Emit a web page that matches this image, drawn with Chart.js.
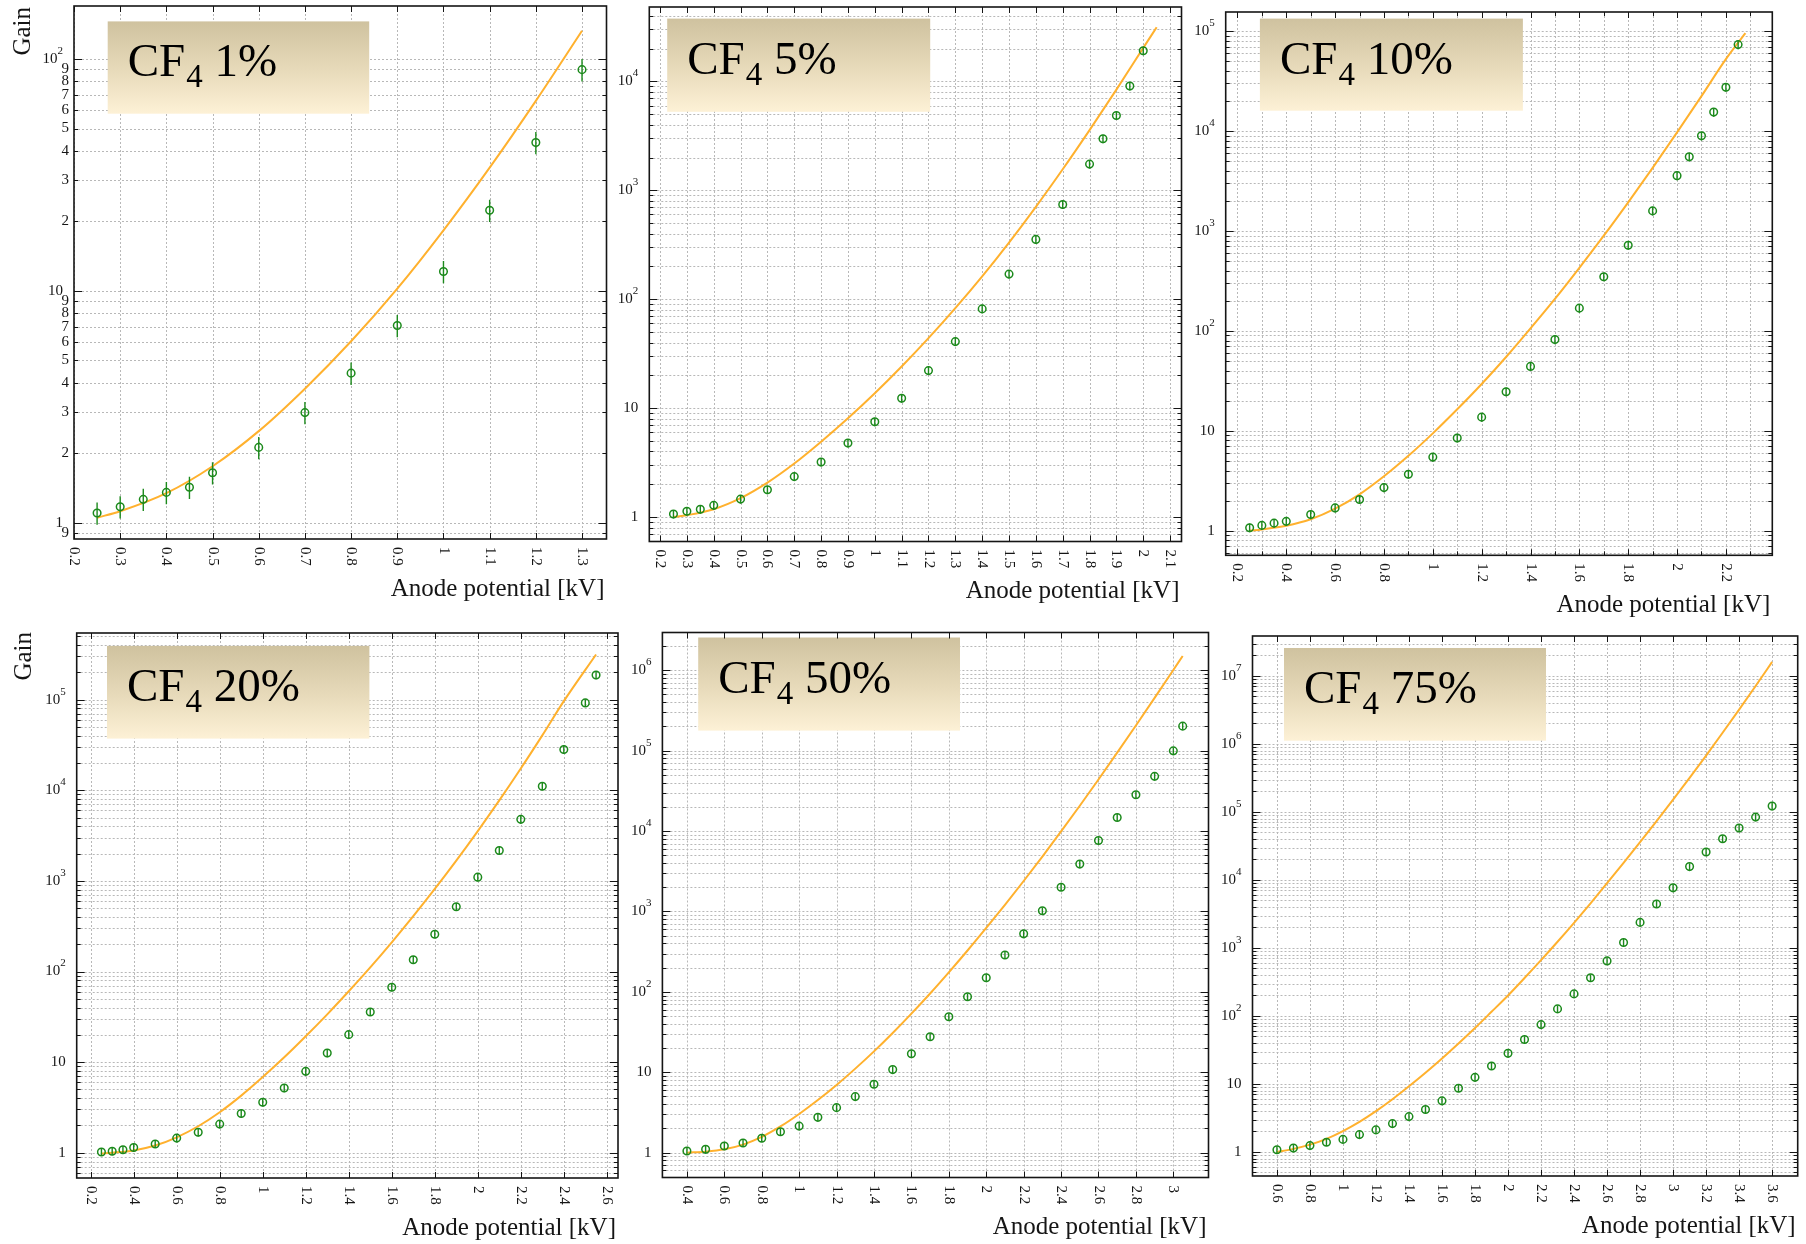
<!DOCTYPE html>
<html>
<head>
<meta charset="utf-8">
<title>Gain vs anode potential for CF4 admixtures</title>
<script src="https://cdn.jsdelivr.net/npm/chart.js@4.4.1/dist/chart.umd.min.js"></script>
<style>
  html, body { margin: 0; padding: 0; background: #ffffff; }
  #page { position: relative; width: 1806px; height: 1244px; overflow: hidden; background: #ffffff; }
  #page canvas { position: absolute; }
</style>
</head>
<body>
<div id="page"></div>
<script>
// ---------------- measured gain (points) and model curve (line) ----------------

// CF4 1 %
const pct1 = '1%';
const volt1 = [0.25, 0.3, 0.35, 0.4, 0.45, 0.5, 0.6, 0.7, 0.8, 0.9, 1.0, 1.1, 1.2, 1.3];
const gain1 = [1.10, 1.17, 1.26, 1.35, 1.42, 1.64, 2.11, 2.98, 4.41, 7.08, 12.1, 22.2, 43.5, 89.7];
const relErr1 = 0.11;
const fitVolt1 = [0.25, 0.3, 0.4, 0.5, 0.6, 0.7, 0.8, 0.9, 1.0, 1.1, 1.2, 1.3];
const fitGain1 = [1.05, 1.12, 1.34, 1.75, 2.48, 3.78, 6.05, 10.2, 18.2, 33.9, 65.8, 132];
const xTicks1 = [0.2, 0.3, 0.4, 0.5, 0.6, 0.7, 0.8, 0.9, 1, 1.1, 1.2, 1.3];
const yDecades1 = [0, 1, 2];
const yMinorLabels1 = [0.9, 2, 3, 4, 5, 6, 7, 8, 9, 20, 30, 40, 50, 60, 70, 80, 90];

// CF4 5 %
const pct2 = '5%';
const volt2 = [0.25, 0.3, 0.35, 0.4, 0.5, 0.6, 0.7, 0.8, 0.9, 1.0, 1.1, 1.2, 1.3, 1.4, 1.5, 1.6, 1.7, 1.8, 1.85, 1.9, 1.95, 2.0];
const gain2 = [1.065, 1.13, 1.18, 1.28, 1.46, 1.78, 2.35, 3.2, 4.78, 7.5, 12.3, 22.1, 40.8, 81.5, 170, 354, 741, 1740, 2970, 4860, 9060, 19100];
const relErr2 = 0.09;
const fitVolt2 = [0.25, 0.3, 0.4, 0.5, 0.6, 0.7, 0.8, 0.9, 1.0, 1.1, 1.2, 1.3, 1.4, 1.5, 1.6, 1.7, 1.8, 1.9, 2.0, 2.05];
const fitGain2 = [1.0, 1.04, 1.18, 1.49, 2.07, 3.10, 4.92, 8.07, 13.7, 24.1, 43.9, 82.8, 162, 331, 705, 1560, 3570, 8410, 20300, 31400];
const xTicks2 = [0.2, 0.3, 0.4, 0.5, 0.6, 0.7, 0.8, 0.9, 1, 1.1, 1.2, 1.3, 1.4, 1.5, 1.6, 1.7, 1.8, 1.9, 2, 2.1];
const yDecades2 = [0, 1, 2, 3, 4];

// CF4 10 %
const pct3 = '10%';
const volt3 = [0.25, 0.3, 0.35, 0.4, 0.5, 0.6, 0.7, 0.8, 0.9, 1.0, 1.1, 1.2, 1.3, 1.4, 1.5, 1.6, 1.7, 1.8, 1.9, 2.0, 2.05, 2.1, 2.15, 2.2, 2.25];
const gain3 = [1.07, 1.13, 1.19, 1.24, 1.45, 1.69, 2.05, 2.70, 3.67, 5.45, 8.48, 13.7, 24.6, 44.1, 81.9, 169, 348, 721, 1590, 3580, 5530, 8970, 15500, 27500, 73400];
const relErr3 = 0.1;
const fitVolt3 = [0.25, 0.3, 0.4, 0.5, 0.6, 0.7, 0.8, 0.9, 1.0, 1.1, 1.2, 1.3, 1.4, 1.5, 1.6, 1.7, 1.8, 1.9, 2.0, 2.1, 2.2, 2.28];
const fitGain3 = [1.0, 1.03, 1.12, 1.30, 1.66, 2.31, 3.50, 5.61, 9.42, 16.4, 29.4, 54.8, 106, 209, 428, 897, 1936, 4285, 9700, 22400, 52500, 95500];
const xTicks3 = [0.2, 0.4, 0.6, 0.8, 1, 1.2, 1.4, 1.6, 1.8, 2, 2.2];
const xGrid3 = [0.2, 0.3, 0.4, 0.5, 0.6, 0.7, 0.8, 0.9, 1, 1.1, 1.2, 1.3, 1.4, 1.5, 1.6, 1.7, 1.8, 1.9, 2, 2.1, 2.2, 2.3];
const yDecades3 = [0, 1, 2, 3, 4, 5];

// CF4 20 %
const pct4 = '20%';
const volt4 = [0.25, 0.3, 0.35, 0.4, 0.5, 0.6, 0.7, 0.8, 0.9, 1.0, 1.1, 1.2, 1.3, 1.4, 1.5, 1.6, 1.7, 1.8, 1.9, 2.0, 2.1, 2.2, 2.3, 2.4, 2.5, 2.55];
const gain4 = [1.02, 1.04, 1.08, 1.14, 1.25, 1.45, 1.68, 2.07, 2.71, 3.6, 5.18, 7.91, 12.6, 20.1, 35.8, 67.1, 135, 258, 519, 1100, 2170, 4780, 11100, 28200, 92200, 187500];
const relErr4 = 0.1;
const fitVolt4 = [0.25, 0.3, 0.4, 0.5, 0.6, 0.7, 0.8, 0.9, 1.0, 1.1, 1.2, 1.3, 1.4, 1.5, 1.6, 1.7, 1.8, 1.9, 2.0, 2.1, 2.2, 2.3, 2.4, 2.55];
const fitGain4 = [0.98, 1.0, 1.06, 1.20, 1.48, 1.96, 2.80, 4.27, 6.84, 11.3, 19.3, 33.7, 60.5, 111, 210, 408, 815, 1675, 3550, 7740, 17400, 40400, 96400, 316000];
const xTicks4 = [0.2, 0.4, 0.6, 0.8, 1, 1.2, 1.4, 1.6, 1.8, 2, 2.2, 2.4, 2.6];
const yDecades4 = [0, 1, 2, 3, 4, 5];

// CF4 50 %
const pct5 = '50%';
const volt5 = [0.4, 0.5, 0.6, 0.7, 0.8, 0.9, 1.0, 1.1, 1.2, 1.3, 1.4, 1.5, 1.6, 1.7, 1.8, 1.9, 2.0, 2.1, 2.2, 2.3, 2.4, 2.5, 2.6, 2.7, 2.8, 2.9, 3.0, 3.05];
const gain5 = [1.05, 1.10, 1.21, 1.32, 1.51, 1.82, 2.14, 2.75, 3.63, 4.98, 7.1, 10.8, 17.0, 27.7, 49.1, 86.8, 150, 288, 527, 1022, 2003, 3885, 7620, 14780, 28340, 47900, 99500, 201800];
const relErr5 = 0.1;
const fitVolt5 = [0.4, 0.5, 0.6, 0.7, 0.8, 0.9, 1.0, 1.1, 1.2, 1.3, 1.4, 1.5, 1.6, 1.7, 1.8, 1.9, 2.0, 2.1, 2.2, 2.3, 2.4, 2.5, 2.6, 2.7, 2.8, 2.9, 3.0, 3.05];
const fitGain5 = [1.0, 1.03, 1.10, 1.26, 1.57, 2.12, 3.03, 4.51, 6.95, 11.1, 18.2, 30.8, 53.6, 95.5, 175, 327, 624, 1211, 2393, 4820, 9890, 20650, 43850, 94400, 205600, 452900, 1.007e6, 1.507e6];
const xTicks5 = [0.4, 0.6, 0.8, 1, 1.2, 1.4, 1.6, 1.8, 2, 2.2, 2.4, 2.6, 2.8, 3];
const yDecades5 = [0, 1, 2, 3, 4, 5, 6];

// CF4 75 %
const pct6 = '75%';
const volt6 = [0.6, 0.7, 0.8, 0.9, 1.0, 1.1, 1.2, 1.3, 1.4, 1.5, 1.6, 1.7, 1.8, 1.9, 2.0, 2.1, 2.2, 2.3, 2.4, 2.5, 2.6, 2.7, 2.8, 2.9, 3.0, 3.1, 3.2, 3.3, 3.4, 3.5, 3.6];
const gain6 = [1.08, 1.14, 1.24, 1.39, 1.53, 1.80, 2.11, 2.61, 3.31, 4.21, 5.64, 8.64, 12.5, 18.4, 28.2, 45.0, 74.6, 127, 211, 364, 645, 1206, 2377, 4440, 7660, 15730, 25720, 40460, 58000, 84000, 122000];
const relErr6 = 0.12;
const fitVolt6 = [0.6, 0.7, 0.8, 0.9, 1.0, 1.1, 1.2, 1.3, 1.4, 1.5, 1.6, 1.7, 1.8, 1.9, 2.0, 2.1, 2.2, 2.3, 2.4, 2.5, 2.6, 2.7, 2.8, 2.9, 3.0, 3.1, 3.2, 3.3, 3.4, 3.5, 3.6];
const fitGain6 = [1.0, 1.11, 1.28, 1.56, 2.03, 2.77, 3.98, 5.96, 9.23, 14.6, 23.7, 39.4, 66.5, 115, 200, 361, 661, 1233, 2344, 4540, 8950, 17900, 36100, 73600, 152000, 318000, 675000, 1.46e6, 3.19e6, 7.11e6, 1.61e7];
const xTicks6 = [0.6, 0.8, 1, 1.2, 1.4, 1.6, 1.8, 2, 2.2, 2.4, 2.6, 2.8, 3, 3.2, 3.4, 3.6];
const yDecades6 = [0, 1, 2, 3, 4, 5, 6, 7];

const xAxisTitle = 'Anode potential [kV]';
const yAxisTitle = 'Gain';

// ---------------- look ----------------
const GREEN = '#1c8a1c';
const ORANGE = '#ffb12e';
const GRID = '#b8b8b8';
const INK = '#151515';
const SERIF = '"Liberation Serif", "Times New Roman", Times, serif';

// page layout of the six panels: canvas cell, plot frame (page px), axis ranges, label box
const layout = [
  { cell: [0, 0, 612, 622],      plot: [74, 6, 607, 539],          xr: [0.2, 1.353],  yr: [0.85, 168.7],  box: [107.7, 21.4, 261.5, 92.3], gainTitle: [23, 7] },
  { cell: [612, 0, 575, 622],    plot: [649.3, 7, 1183.2, 541.5],  xr: [0.16, 2.1425], yr: [0.596, 48200], box: [667.2, 18.6, 263, 93.2] },
  { cell: [1187, 0, 619, 622],   plot: [1225.7, 12, 1772.3, 555.3], xr: [0.152, 2.39], yr: [0.567, 155700], box: [1259.9, 18.6, 263, 92.1] },
  { cell: [0, 622, 626, 622],    plot: [76.7, 633, 618, 1178],     xr: [0.135, 2.652], yr: [0.526, 545000], box: [107, 645.9, 262.4, 92.7], gainTitle: [24, 632] },
  { cell: [626, 622, 588, 622],  plot: [662.4, 632.5, 1209.5, 1177.5], xr: [0.269, 3.188], yr: [0.491, 2.95e6], box: [698.2, 637.5, 261.8, 93.1] },
  { cell: [1214, 622, 592, 622], plot: [1252.5, 636, 1797.7, 1176], xr: [0.452, 3.755], yr: [0.443, 3.87e7], box: [1284, 648, 262, 92.7] }
];

const series = [
  { pct: pct1, volt: volt1, gain: gain1, err: relErr1, fv: fitVolt1, fg: fitGain1, xt: xTicks1, xg: xTicks1, yd: yDecades1, ym: yMinorLabels1 },
  { pct: pct2, volt: volt2, gain: gain2, err: relErr2, fv: fitVolt2, fg: fitGain2, xt: xTicks2, xg: xTicks2, yd: yDecades2, ym: [] },
  { pct: pct3, volt: volt3, gain: gain3, err: relErr3, fv: fitVolt3, fg: fitGain3, xt: xTicks3, xg: xGrid3,  yd: yDecades3, ym: [] },
  { pct: pct4, volt: volt4, gain: gain4, err: relErr4, fv: fitVolt4, fg: fitGain4, xt: xTicks4, xg: xTicks4, yd: yDecades4, ym: [] },
  { pct: pct5, volt: volt5, gain: gain5, err: relErr5, fv: fitVolt5, fg: fitGain5, xt: xTicks5, xg: xTicks5, yd: yDecades5, ym: [] },
  { pct: pct6, volt: volt6, gain: gain6, err: relErr6, fv: fitVolt6, fg: fitGain6, xt: xTicks6, xg: xTicks6, yd: yDecades6, ym: [] }
];

// log grid: 1..9 x 10^k inside the axis range
function logGrid(min, max) {
  const out = [];
  for (let e = Math.floor(Math.log10(min)); e <= Math.ceil(Math.log10(max)); e++) {
    for (let k = 1; k <= 9; k++) {
      const v = k * Math.pow(10, e);
      if (v > min && v < max) out.push({ v, major: k === 1 });
    }
  }
  return out;
}

function seg(ctx, x1, y1, x2, y2) {
  ctx.beginPath(); ctx.moveTo(x1, y1); ctx.lineTo(x2, y2); ctx.stroke();
}

function makeDecor(L, S) {
  const ox = L.cell[0], oy = L.cell[1];
  return {
    id: 'panelDecor',
    beforeDatasetsDraw(chart) {
      const { ctx, chartArea: a } = chart;
      const xs = chart.scales.x, ys = chart.scales.y;
      ctx.save();
      ctx.beginPath();
      ctx.rect(a.left, a.top, a.right - a.left, a.bottom - a.top);
      ctx.clip();
      // dotted grid
      ctx.strokeStyle = GRID;
      ctx.lineWidth = 1;
      ctx.setLineDash([2, 2]);
      S.xg.forEach(v => {
        const px = Math.round(xs.getPixelForValue(v)) + 0.5;
        seg(ctx, px, a.top, px, a.bottom);
      });
      logGrid(L.yr[0], L.yr[1]).forEach(t => {
        const py = Math.round(ys.getPixelForValue(t.v)) + 0.5;
        seg(ctx, a.left, py, a.right, py);
      });
      ctx.setLineDash([]);
      // label box with vertical gradient
      const bx = L.box[0] - ox, by = L.box[1] - oy, bw = L.box[2], bh = L.box[3];
      const grad = ctx.createLinearGradient(0, by, 0, by + bh);
      grad.addColorStop(0, '#cfc29f');
      grad.addColorStop(0.55, '#e8dbbb');
      grad.addColorStop(1, '#fdf1d6');
      ctx.fillStyle = grad;
      ctx.fillRect(bx, by, bw, bh);
      // "CF4 x%"
      const tx = bx + 20, ty = by + 55;
      ctx.fillStyle = '#000';
      ctx.textBaseline = 'alphabetic';
      ctx.textAlign = 'left';
      ctx.font = `47px ${SERIF}`;
      ctx.fillText('CF', tx, ty);
      const w1 = ctx.measureText('CF').width;
      ctx.font = `33px ${SERIF}`;
      ctx.fillText('4', tx + w1 + 1, ty + 11);
      const w2 = ctx.measureText('4').width;
      ctx.font = `47px ${SERIF}`;
      ctx.fillText(' ' + S.pct, tx + w1 + 1 + w2, ty);
      ctx.restore();
    },
    afterDatasetsDraw(chart) {
      const { ctx, chartArea: a } = chart;
      const xs = chart.scales.x, ys = chart.scales.y;
      ctx.save();
      ctx.beginPath();
      ctx.rect(a.left, a.top, a.right - a.left, a.bottom - a.top);
      ctx.clip();
      // vertical error bars on the measured points
      ctx.strokeStyle = GREEN;
      ctx.lineWidth = 1.4;
      S.volt.forEach((v, i) => {
        const px = xs.getPixelForValue(v);
        const g = S.gain[i];
        seg(ctx, px, ys.getPixelForValue(g * (1 + S.err)), px, ys.getPixelForValue(g * (1 - S.err)));
      });
      ctx.restore();
    },
    afterDraw(chart) {
      const { ctx, chartArea: a } = chart;
      const xs = chart.scales.x, ys = chart.scales.y;
      ctx.save();
      // inward tick marks
      ctx.strokeStyle = INK;
      ctx.lineWidth = 1;
      S.xg.forEach(v => {
        const px = Math.round(xs.getPixelForValue(v)) + 0.5;
        const len = S.xt.includes(v) ? 6 : 4;
        seg(ctx, px, a.bottom, px, a.bottom - len);
        seg(ctx, px, a.top, px, a.top + len);
      });
      logGrid(L.yr[0], L.yr[1]).forEach(t => {
        const py = Math.round(ys.getPixelForValue(t.v)) + 0.5;
        const len = t.major ? 8 : 4;
        seg(ctx, a.left, py, a.left + len, py);
        seg(ctx, a.right, py, a.right - len, py);
      });
      // frame
      ctx.lineWidth = 1.6;
      ctx.strokeRect(a.left, a.top, a.right - a.left, a.bottom - a.top);

      ctx.fillStyle = INK;
      // x tick labels, turned to read downwards
      ctx.font = `15px ${SERIF}`;
      ctx.textAlign = 'left';
      ctx.textBaseline = 'middle';
      S.xt.forEach(v => {
        const px = xs.getPixelForValue(v);
        ctx.save();
        ctx.translate(px, a.bottom + 8);
        ctx.rotate(Math.PI / 2);
        ctx.fillText(String(v), 0, 0);
        ctx.restore();
      });
      // y decade labels
      ctx.textAlign = 'right';
      const rx = a.left - 11;
      S.yd.forEach(e => {
        const py = ys.getPixelForValue(Math.pow(10, e));
        if (e === 0) {
          ctx.font = `15px ${SERIF}`;
          ctx.fillText('1', rx, py);
        } else if (e === 1) {
          ctx.font = `15px ${SERIF}`;
          ctx.fillText('10', rx, py);
        } else {
          ctx.font = `11px ${SERIF}`;
          const sw = ctx.measureText(String(e)).width;
          ctx.fillText(String(e), rx, py - 8);
          ctx.font = `15px ${SERIF}`;
          ctx.fillText('10', rx - sw, py);
        }
      });
      // intermediate labels (first panel only)
      ctx.font = `15px ${SERIF}`;
      S.ym.forEach(v => {
        const py = ys.getPixelForValue(v);
        const d = Math.round(v / Math.pow(10, Math.floor(Math.log10(v) + 1e-9)));
        ctx.fillText(String(d), a.left - 5, py);
      });
      // axis titles
      ctx.font = `25px ${SERIF}`;
      ctx.textAlign = 'right';
      ctx.fillText(xAxisTitle, a.right - 2, a.bottom + 50);
      if (L.gainTitle) {
        ctx.save();
        ctx.translate(L.gainTitle[0] - ox, L.gainTitle[1] - oy);
        ctx.rotate(-Math.PI / 2);
        ctx.textAlign = 'right';
        ctx.textBaseline = 'middle';
        ctx.fillText(yAxisTitle, 0, 0);
        ctx.restore();
      }
      ctx.restore();
    }
  };
}

const page = document.getElementById('page');
layout.forEach((L, idx) => {
  const S = series[idx];
  const [cx, cy, cw, ch] = L.cell;
  const cv = document.createElement('canvas');
  cv.width = cw; cv.height = ch;
  cv.style.left = cx + 'px'; cv.style.top = cy + 'px';
  cv.style.width = cw + 'px'; cv.style.height = ch + 'px';
  page.appendChild(cv);
  new Chart(cv, {
    type: 'scatter',
    data: {
      datasets: [
        {
          label: 'measured',
          data: S.volt.map((v, i) => ({ x: v, y: S.gain[i] })),
          pointStyle: 'circle',
          pointRadius: 3.8,
          pointBorderWidth: 1.5,
          pointBorderColor: GREEN,
          pointBackgroundColor: 'rgba(0,0,0,0)',
          borderColor: GREEN,
          backgroundColor: 'rgba(0,0,0,0)',
          showLine: false
        },
        {
          label: 'model',
          type: 'line',
          data: S.fv.map((v, i) => ({ x: v, y: S.fg[i] })),
          borderColor: ORANGE,
          borderWidth: 2,
          pointRadius: 0,
          fill: false,
          cubicInterpolationMode: 'monotone'
        }
      ]
    },
    options: {
      responsive: false,
      animation: false,
      devicePixelRatio: 1,
      events: [],
      layout: {
        padding: {
          left: L.plot[0] - cx,
          top: L.plot[1] - cy,
          right: cx + cw - L.plot[2],
          bottom: cy + ch - L.plot[3]
        }
      },
      scales: {
        x: { type: 'linear', min: L.xr[0], max: L.xr[1], display: false },
        y: { type: 'logarithmic', min: L.yr[0], max: L.yr[1], display: false }
      },
      plugins: {
        legend: { display: false },
        title: { display: false },
        tooltip: { enabled: false }
      }
    },
    plugins: [makeDecor(L, S)]
  });
});
</script>
</body>
</html>
